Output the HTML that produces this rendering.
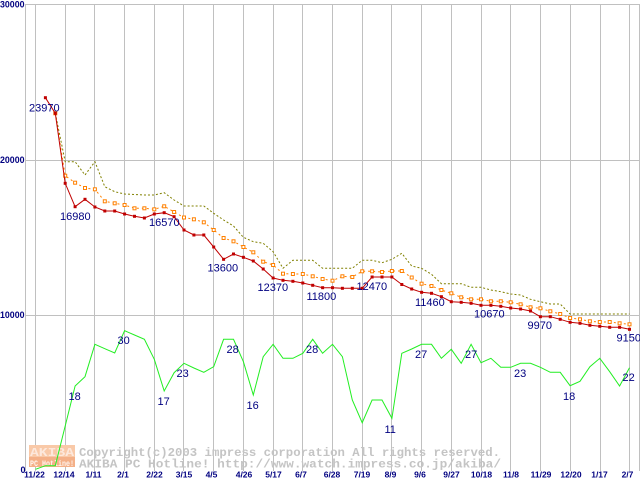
<!DOCTYPE html>
<html><head><meta charset="utf-8"><style>
html,body{margin:0;padding:0;background:#fff;}
svg{display:block;}
</style></head><body>
<svg width="640" height="480" viewBox="0 0 640 480" xmlns="http://www.w3.org/2000/svg">
<defs>
<marker id="mr" markerUnits="userSpaceOnUse" markerWidth="6" markerHeight="6" refX="3" refY="3" viewBox="0 0 6 6">
<rect x="1.5" y="1.5" width="3" height="3" fill="#c00000" stroke="none"/>
</marker>
<marker id="mo" markerUnits="userSpaceOnUse" markerWidth="8" markerHeight="8" refX="4" refY="4" viewBox="0 0 8 8">
<rect x="2.5" y="2.5" width="3" height="3" fill="#ffffff" stroke="#ff8000" stroke-width="1" stroke-dasharray="none"/>
</marker>
</defs>
<rect width="640" height="480" fill="#fff"/>
<g stroke="#c0c0c0" stroke-width="1" shape-rendering="crispEdges">
<line x1="26" y1="4.5" x2="640" y2="4.5"/>
<line x1="26" y1="160.5" x2="640" y2="160.5"/>
<line x1="26" y1="315.5" x2="640" y2="315.5"/>
<line x1="25.5" y1="4" x2="25.5" y2="471"/>
<line x1="639.5" y1="4" x2="639.5" y2="471"/>
<line x1="35.5" y1="4" x2="35.5" y2="471"/>
<line x1="65.5" y1="4" x2="65.5" y2="471"/>
<line x1="94.5" y1="4" x2="94.5" y2="471"/>
<line x1="124.5" y1="4" x2="124.5" y2="471"/>
<line x1="154.5" y1="4" x2="154.5" y2="471"/>
<line x1="183.5" y1="4" x2="183.5" y2="471"/>
<line x1="213.5" y1="4" x2="213.5" y2="471"/>
<line x1="243.5" y1="4" x2="243.5" y2="471"/>
<line x1="273.5" y1="4" x2="273.5" y2="471"/>
<line x1="302.5" y1="4" x2="302.5" y2="471"/>
<line x1="332.5" y1="4" x2="332.5" y2="471"/>
<line x1="362.5" y1="4" x2="362.5" y2="471"/>
<line x1="391.5" y1="4" x2="391.5" y2="471"/>
<line x1="421.5" y1="4" x2="421.5" y2="471"/>
<line x1="451.5" y1="4" x2="451.5" y2="471"/>
<line x1="481.5" y1="4" x2="481.5" y2="471"/>
<line x1="510.5" y1="4" x2="510.5" y2="471"/>
<line x1="540.5" y1="4" x2="540.5" y2="471"/>
<line x1="570.5" y1="4" x2="570.5" y2="471"/>
<line x1="600.5" y1="4" x2="600.5" y2="471"/>
<line x1="629.5" y1="4" x2="629.5" y2="471"/>
</g>

<!-- watermark -->
<rect x="29" y="445" width="46" height="12" fill="#f9c9a8"/>
<text x="30" y="456" font-family="Liberation Mono, monospace" font-weight="bold" font-size="12" fill="#fde8dc" textLength="44" lengthAdjust="spacingAndGlyphs">AKIBA</text>
<rect x="29" y="457" width="46" height="10" fill="#f4b088"/>
<text x="30" y="466" font-family="Liberation Mono, monospace" font-weight="bold" font-size="8.5" fill="#fff4ee" textLength="44" lengthAdjust="spacingAndGlyphs">PC Hotline!</text>
<g font-family="Liberation Mono, monospace" font-weight="bold" font-size="12.3" fill="#c4c4c4">
<text x="79" y="456" textLength="421" lengthAdjust="spacingAndGlyphs">Copyright(c)2003 impress corporation All rights reserved.</text>
<text x="79" y="467.5" textLength="422" lengthAdjust="spacingAndGlyphs">AKIBA PC Hotline!  http://www.watch.impress.co.jp/akiba/</text>
</g>

<!-- series -->
<polyline fill="none" stroke="#808000" stroke-width="1" stroke-dasharray="2,2" points="55.3,113.3 65.2,161.7 75.1,161.7 85,175 94.9,161.7 104.8,186.7 114.7,191.7 124.6,194 134.5,194.5 144.4,195 154.3,195 164.2,192.7 174.1,200 184,206 193.9,206 203.8,206 213.7,213.3 223.6,220 233.5,226 243.4,237.3 253.3,241.7 263.2,243.3 273.1,251.7 283,268.3 292.9,260.3 302.8,260.3 312.7,260.3 322.6,268.3 332.5,268.3 342.4,268.3 352.3,268.3 362.2,260.3 372.1,260.3 382,262.7 391.9,259.3 401.8,253.3 411.7,266 421.6,268.3 431.5,274.3 441.4,283.7 451.3,283.7 461.2,283.7 471.1,287.3 481,287.3 490.9,290 500.8,291.7 510.7,294 520.6,295 530.5,299.3 540.4,301.7 550.3,304 560.2,304 570.1,314 580,314 589.9,314 599.8,314 609.7,314 619.6,314 629.5,314"/>
<polyline fill="none" stroke="#ff8000" stroke-width="1" stroke-dasharray="2,3" marker-start="url(#mo)" marker-mid="url(#mo)" marker-end="url(#mo)" points="55.3,113.3 65.2,175.7 75.1,182.7 85,188 94.9,189.3 104.8,201.3 114.7,203.3 124.6,205 134.5,208.3 144.4,208.3 154.3,209.3 164.2,206.3 174.1,212 184,217.5 193.9,219.3 203.8,222.3 213.7,230 223.6,238 233.5,241.3 243.4,247 253.3,252.3 263.2,261.7 273.1,265 283,273.7 292.9,274 302.8,274 312.7,276.3 322.6,279 332.5,280.7 342.4,276.3 352.3,277 362.2,271.3 372.1,271.3 382,272 391.9,271 401.8,271 411.7,277.5 421.6,283.7 431.5,286 441.4,290 451.3,293.3 461.2,297.3 471.1,299.3 481,299.3 490.9,301.3 500.8,301.3 510.7,302.3 520.6,304.3 530.5,307.3 540.4,308.3 550.3,311.3 560.2,314 570.1,318 580,319.3 589.9,321.3 599.8,322 609.7,322 619.6,323.3 629.5,324.3"/>
<polyline fill="none" stroke="#c00000" stroke-width="1" marker-start="url(#mr)" marker-mid="url(#mr)" marker-end="url(#mr)" points="45.4,97.7 55.3,113.3 65.2,183.3 75.1,206.7 85,199.3 94.9,207 104.8,211 114.7,211 124.6,214 134.5,216.3 144.4,218 154.3,214 164.2,212.7 174.1,216.7 184,230 193.9,235 203.8,235 213.7,247 223.6,259.3 233.5,254 243.4,257.3 253.3,261 263.2,269 273.1,278 283,280.3 292.9,281.3 302.8,283 312.7,285.3 322.6,287.7 332.5,287.7 342.4,288.3 352.3,288.3 362.2,288.3 372.1,277 382,277 391.9,277 401.8,284.5 411.7,289 421.6,292.3 431.5,293.3 441.4,296.7 451.3,301.7 461.2,302.3 471.1,303.3 481,305.3 490.9,305.3 500.8,306.3 510.7,308 520.6,309 530.5,311 540.4,316.7 550.3,316.7 560.2,319.3 570.1,322.3 580,323.3 589.9,325.3 599.8,326.3 609.7,327.3 619.6,327.3 629.5,329.3"/>
<polyline fill="none" stroke="#22ee22" stroke-width="1" points="35.5,469.3 45.4,465.7 55.3,465.7 65.2,426 75.1,386 85,376.7 94.9,344.3 104.8,348.7 114.7,353 124.6,330.7 134.5,335 144.4,339.3 154.3,359.3 164.2,391 174.1,372.7 184,363.3 193.9,368 203.8,372.3 213.7,366.7 223.6,339.3 233.5,339.3 243.4,361.7 253.3,395 263.2,356.7 273.1,344.3 283,358.3 292.9,358.3 302.8,353.3 312.7,339.3 322.6,353.3 332.5,344.3 342.4,356.7 352.3,400 362.2,422.7 372.1,400 382,400 391.9,418.3 401.8,353.3 411.7,349 421.6,344.3 431.5,344.3 441.4,358.3 451.3,349.3 461.2,363.3 471.1,344.3 481,362.7 490.9,358.3 500.8,367.3 510.7,367.3 520.6,363.3 530.5,363.3 540.4,367.3 550.3,372.3 560.2,372.3 570.1,385.7 580,381.3 589.9,366.7 599.8,358.3 609.7,371.7 619.6,386 629.5,367.7"/>

<!-- value labels -->
<g font-family="Liberation Sans, sans-serif" font-size="11" fill="#000080">
<text x="29" y="111.5">23970</text>
<text x="60" y="220">16980</text>
<text x="149" y="226">16570</text>
<text x="207.5" y="271.5">13600</text>
<text x="257.5" y="291">12370</text>
<text x="306.5" y="300">11800</text>
<text x="356.5" y="290">12470</text>
<text x="415" y="306">11460</text>
<text x="474" y="317.5">10670</text>
<text x="527.5" y="329">9970</text>
<text x="616.5" y="341.5">9150</text>
<text x="68.5" y="400">18</text>
<text x="117.5" y="344">30</text>
<text x="157.5" y="405">17</text>
<text x="176.5" y="377">23</text>
<text x="226.5" y="353">28</text>
<text x="246.5" y="409">16</text>
<text x="306" y="353">28</text>
<text x="384.5" y="433">11</text>
<text x="415" y="358">27</text>
<text x="465" y="358">27</text>
<text x="514" y="377">23</text>
<text x="563" y="400">18</text>
<text x="622.5" y="381">22</text>
</g>

<!-- y axis labels -->
<g font-family="Liberation Sans, sans-serif" font-weight="bold" font-size="9" fill="#000080">
<text x="0" y="7.5" textLength="24.5" lengthAdjust="spacingAndGlyphs">30000</text>
<text x="0" y="163" textLength="24.5" lengthAdjust="spacingAndGlyphs">20000</text>
<text x="0" y="318" textLength="24.5" lengthAdjust="spacingAndGlyphs">10000</text>
<text x="20.5" y="473">0</text>
</g>

<!-- x axis labels -->
<g font-family="Liberation Sans, sans-serif" font-weight="bold" font-size="8.5" fill="#000080" text-anchor="middle">
<text x="34.5" y="477.5">11/22</text>
<text x="64" y="477.5">12/14</text>
<text x="93.5" y="477.5">1/11</text>
<text x="123" y="477.5">2/1</text>
<text x="154.5" y="477.5">2/22</text>
<text x="184" y="477.5">3/15</text>
<text x="211.5" y="477.5">4/5</text>
<text x="244" y="477.5">4/26</text>
<text x="273.5" y="477.5">5/17</text>
<text x="301" y="477.5">6/7</text>
<text x="332" y="477.5">6/28</text>
<text x="362" y="477.5">7/19</text>
<text x="390.5" y="477.5">8/9</text>
<text x="420" y="477.5">9/6</text>
<text x="451.5" y="477.5">9/27</text>
<text x="481.5" y="477.5">10/18</text>
<text x="511" y="477.5">11/8</text>
<text x="541" y="477.5">11/29</text>
<text x="571" y="477.5">12/20</text>
<text x="599.5" y="477.5">1/17</text>
<text x="627.5" y="477.5">2/7</text>
</g>
</svg>
</body></html>
